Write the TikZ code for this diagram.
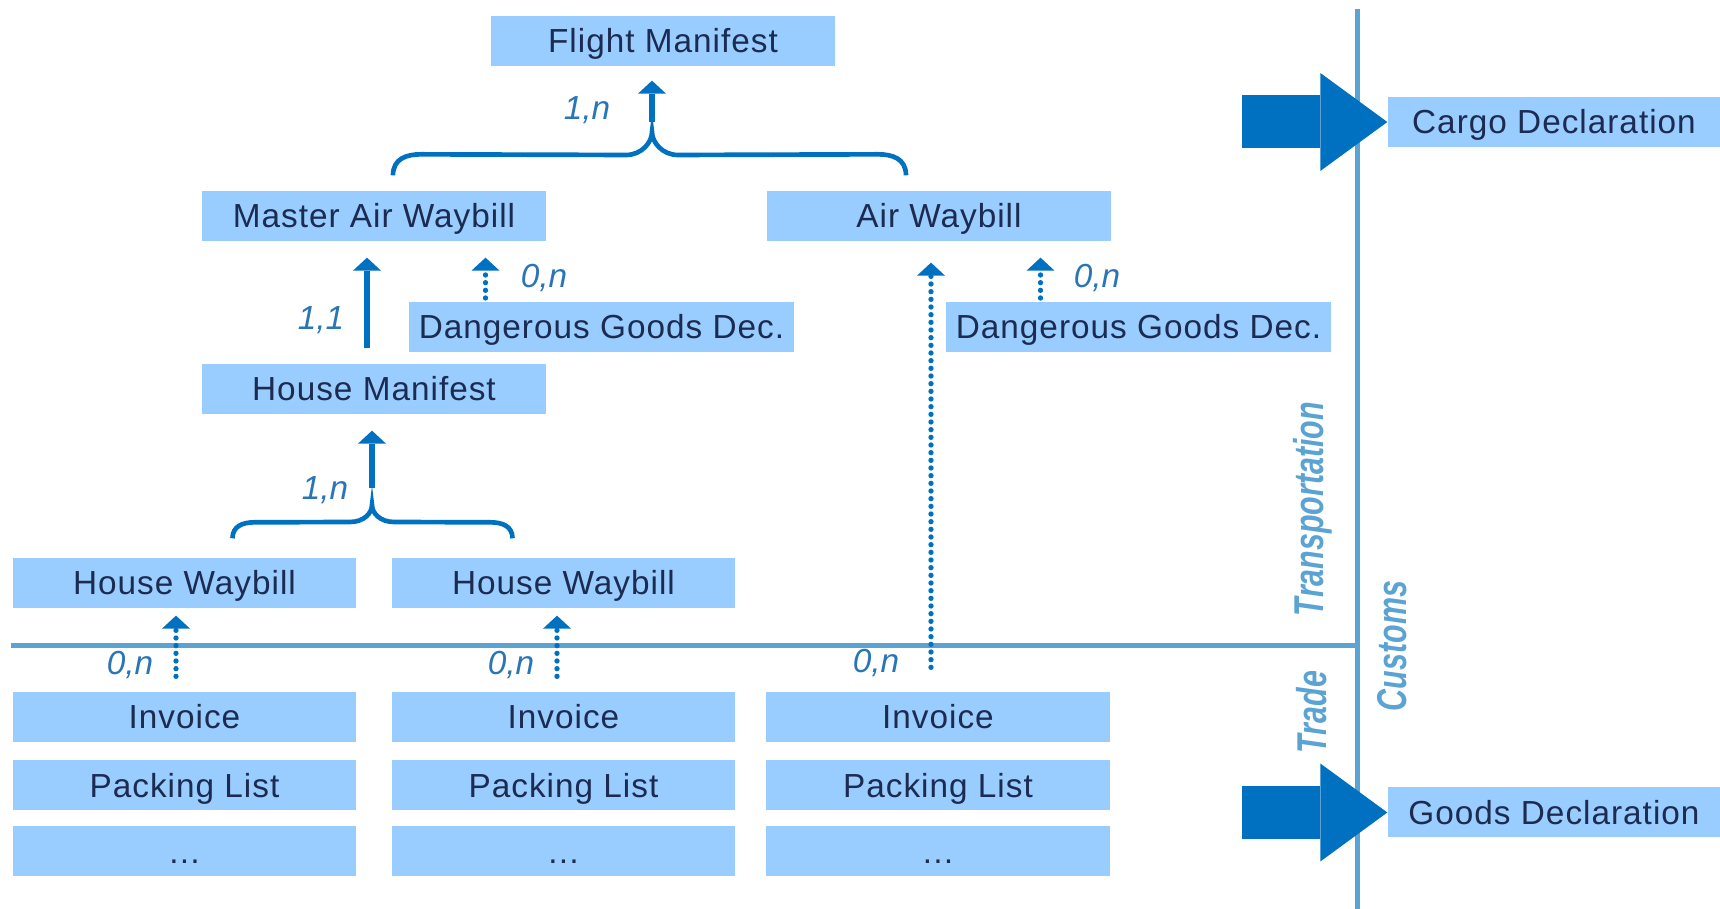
\documentclass[tikz,border=0pt]{standalone}
\usepackage{fontspec}
\setmainfont{Liberation Sans}
\usetikzlibrary{arrows.meta,calc}
\definecolor{boxblue}{HTML}{99CCFF}
\definecolor{boxtext}{HTML}{1C2B50}
\definecolor{arrowblue}{HTML}{0070C0}
\definecolor{lineblue}{HTML}{5BA3D3}
\definecolor{cardblue}{HTML}{2A74B8}

\begin{document}
\begin{tikzpicture}[
            x=0.3pt, y=-0.3pt,
            box/.style={fill=boxblue, text=boxtext, inner sep=0pt, minimum width=103pt, minimum height=15pt,
                text height=7.2pt, text depth=0pt,
                font=\fontsize{10}{12}\selectfont\addfontfeature{LetterSpace=3}},
            widebox/.style={box, minimum width=115.5pt},
            card/.style={text=cardblue, font=\fontsize{10}{12}\selectfont\itshape},
            area/.style={text=lineblue, rotate=90, font=\fontsize{12.5}{14}\selectfont\bfseries\itshape\addfontfeature{FakeStretch=0.73}},
            divider/.style={draw=lineblue, line width=1.5pt},
            brace/.style={draw=arrowblue, line width=1.4pt},
            solidarrow/.style={draw=arrowblue, line width=1.7pt, -{Triangle[length=3.9pt, width=8.4pt, line width=0pt]}},
            dotarrow/.style={draw=arrowblue, line width=1.6pt, line cap=round, dash pattern=on 0pt off 2.3pt,
                -{Triangle[length=3.9pt, width=8.4pt, line width=0pt]}},
            bigarrow/.style={draw=arrowblue, line width=15.9pt, -{Triangle[length=20.1pt, width=29.4pt, line width=0pt]}}
        ]
            \useasboundingbox (0,0) rectangle (1720,909);

            % Dividers between trade, transportation and customs
            \draw[divider] (11,646) -- (1360,646);
            \draw[divider] (1357,9) -- (1357,909);
            \node[area] (transport) at (1313,509) {Transportation};
            \node[area] (trade) at (1312,712) {Trade};
            \node[area] (customs) at (1392,646) {Customs};

            % Transport documents
            \node[box] (fm) at (663,41) {Flight Manifest};
            \node[box] (maw) at (374,216) {Master Air Waybill};
            \node[box, minimum width=103.2pt] (awb) at (939,216) {Air Waybill};
            \node[widebox] (dgd1) at (601.5,327) {Dangerous Goods Dec.};
            \node[widebox] (dgd2) at (1138.5,327) {Dangerous Goods Dec.};
            \node[box] (hm) at (374,389) {House Manifest};
            \node[box] (hw1) at (184.5,583) {House Waybill};
            \node[box] (hw2) at (563.5,583) {House Waybill};

            % Trade documents, one column per shipment
            \foreach \x/\col in {184.5/1, 563.5/2, 938/3} {
                \node[box] (inv\col) at (\x,717) {Invoice};
                \node[box] (pack\col) at (\x,785.5) {Packing List};
                \node[box] (more\col) at (\x,851.5) {\dots};
            }

            % Customs declarations
            \node[box, minimum width=99.6pt] (cargo) at (1554,122) {Cargo Declaration};
            \node[box, minimum width=99.6pt] (goods) at (1554,812.5) {Goods Declaration};
            \coordinate (cargoin) at (1242,122);
            \coordinate (goodsin) at (1242,812.5);
            \draw[bigarrow] (cargoin) -- (cargo.west);
            \draw[bigarrow] (goodsin) -- (goods.west);

            % Braces grouping waybills
            \coordinate (fmtip) at (652,132);
            \coordinate (mawend) at ($(maw.north)+(19,-15)$);
            \coordinate (awbend) at ($(awb.north)+(-33,-15)$);
            \draw[brace] (mawend) .. controls +(0,-17) and +(-14,0) .. ++(28,-21)
                -- ($(fmtip)+(-26,23)$) .. controls +(16,0) and +(0,10) .. (fmtip)
                .. controls +(0,10) and +(-16,0) .. ++(26,23)
                -- ($(awbend)+(-28,-21)$) .. controls +(14,0) and +(0,-17) .. (awbend);
            \coordinate (hmtip) at (372,505);
            \coordinate (hw1end) at ($(hw1.north)+(48,-19)$);
            \coordinate (hw2end) at ($(hw2.north)+(-51,-19)$);
            \draw[brace] (hw1end) .. controls +(0,-12) and +(-12,0) .. ++(22,-16)
                -- ($(hmtip)+(-22,17)$) .. controls +(14,0) and +(0,8) .. (hmtip)
                .. controls +(0,8) and +(-14,0) .. ++(22,17)
                -- ($(hw2end)+(-22,-16)$) .. controls +(12,0) and +(0,-12) .. (hw2end);

            % Solid links
            \draw[solidarrow, shorten <=3pt, shorten >=4.2pt] (fmtip) -- (fmtip |- fm.south);
            \draw[solidarrow, shorten <=5.1pt, shorten >=4.8pt] (hmtip) -- (hmtip |- hm.south);
            \coordinate (hmup) at ($(hm.north)+(-7,0)$);
            \draw[solidarrow, shorten <=4.5pt, shorten >=4.8pt] (hmup) -- (hmup |- maw.south);

            % Optional links
            \coordinate (dgd1up) at ($(dgd1.north)+(-116,0)$);
            \draw[dotarrow, shorten <=1pt, shorten >=4.8pt] (dgd1up) -- (dgd1up |- maw.south);
            \coordinate (dgd2up) at ($(dgd2.north)+(-98,0)$);
            \draw[dotarrow, shorten <=1pt, shorten >=4.8pt] (dgd2up) -- (dgd2up |- awb.south);
            \coordinate (inv3up) at ($(inv3.north)+(-7,0)$);
            \draw[dotarrow, shorten <=7.2pt, shorten >=6.3pt] (inv3up) -- (inv3up |- awb.south);
            \coordinate (inv1up) at ($(inv1.north)+(-8.5,0)$);
            \draw[dotarrow, shorten <=4.5pt, shorten >=2.1pt] (inv1up) -- (inv1up |- hw1.south);
            \coordinate (inv2up) at ($(inv2.north)+(-6.5,0)$);
            \draw[dotarrow, shorten <=4.5pt, shorten >=2.1pt] (inv2up) -- (inv2up |- hw2.south);

            % Cardinalities
            \node[card] (fmcard) at (587,110) {1,n};
            \node[card] (mawcard) at (321,320) {1,1};
            \node[card] (hmcard) at (325,490) {1,n};
            \node[card] (dgd1card) at (544,278) {0,n};
            \node[card] (dgd2card) at (1097,278) {0,n};
            \node[card] (inv1card) at (130,665) {0,n};
            \node[card] (inv2card) at (511,665) {0,n};
            \node[card] (inv3card) at (876,663) {0,n};
        \end{tikzpicture}
\end{document}
